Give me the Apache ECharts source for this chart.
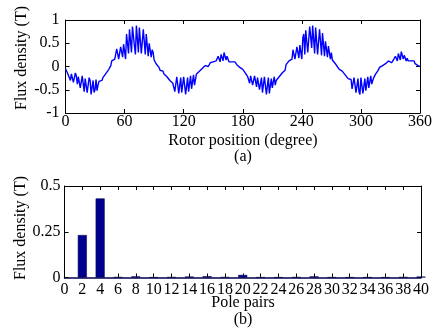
<!DOCTYPE html>
<html>
<head>
<meta charset="utf-8">
<script src="https://cdn.jsdelivr.net/npm/echarts@6/dist/echarts.min.js"></script>
<style>
html,body{margin:0;padding:0;background:#fff;}
#chart{width:435px;height:331px;}
</style>
</head>
<body>
<div id="chart"></div>
<script>
// ---- Data ----
// (a) flux density vs rotor position, one sample per degree, 0..360
const angleStep = 1;
const fluxWave = [
 -0.05,-0.08,-0.14,-0.10,-0.12,-0.30,-0.16,-0.12,-0.34,-0.36,
 -0.14,-0.20,-0.38,-0.22,-0.18,-0.46,-0.50,-0.20,-0.24,-0.54,
 -0.26,-0.22,-0.56,-0.58,-0.24,-0.30,-0.60,-0.58,-0.30,-0.56,
 -0.50,-0.28,-0.52,-0.40,-0.32,-0.36,-0.28,-0.30,-0.24,-0.22,
 -0.18,-0.20,-0.12,-0.10,-0.06,-0.04,0.02,0.12,0.14,0.12,
 0.16,0.14,0.38,0.40,0.16,0.18,0.42,0.40,0.20,0.48,
 0.46,0.16,0.70,0.74,0.28,0.80,0.78,0.30,0.86,0.88,
 0.44,0.26,0.88,0.86,0.30,0.84,0.80,0.28,0.24,0.80,
 0.76,0.26,0.70,0.66,0.22,0.50,0.48,0.20,0.36,0.30,
 0.14,0.12,0.06,0.04,0.02,-0.02,-0.08,-0.10,-0.12,-0.10,
 -0.16,-0.18,-0.14,-0.22,-0.20,-0.24,-0.30,-0.34,-0.28,-0.36,
 -0.34,-0.54,-0.56,-0.22,-0.20,-0.58,-0.60,-0.24,-0.56,-0.58,
 -0.22,-0.26,-0.60,-0.56,-0.24,-0.54,-0.50,-0.20,-0.48,-0.46,
 -0.18,-0.40,-0.36,-0.16,-0.18,-0.14,-0.10,-0.12,-0.06,-0.04,
 -0.02,0.00,0.02,-0.01,0.02,0.00,0.04,0.08,0.10,0.12,
 0.10,0.14,0.10,0.12,0.08,0.22,0.20,0.10,0.26,0.24,
 0.12,0.30,0.28,0.14,0.22,0.20,0.10,0.12,0.14,0.10,
 0.12,0.08,0.10,0.06,0.04,0.02,0.00,-0.02,-0.04,-0.06,
 -0.06,-0.04,-0.12,-0.10,-0.16,-0.22,-0.18,-0.36,-0.20,-0.18,
 -0.40,-0.42,-0.20,-0.22,-0.44,-0.24,-0.20,-0.50,-0.54,-0.24,
 -0.56,-0.58,-0.22,-0.26,-0.60,-0.56,-0.24,-0.58,-0.54,-0.26,
 -0.46,-0.44,-0.22,-0.40,-0.30,-0.26,-0.30,-0.22,-0.24,-0.18,
 -0.14,-0.16,-0.10,-0.08,0.04,0.06,0.08,0.12,0.14,0.12,
 0.16,0.36,0.40,0.16,0.18,0.42,0.40,0.18,0.46,0.44,
 0.16,0.62,0.70,0.26,0.78,0.80,0.30,0.28,0.86,0.88,
 0.40,0.88,0.86,0.28,0.84,0.82,0.26,0.22,0.80,0.78,
 0.24,0.72,0.68,0.22,0.54,0.56,0.20,0.44,0.40,0.16,
 0.30,0.14,0.12,0.10,0.06,0.02,0.00,-0.04,-0.06,-0.08,
 -0.06,-0.10,-0.14,-0.12,-0.18,-0.16,-0.22,-0.26,-0.24,-0.30,
 -0.28,-0.48,-0.52,-0.24,-0.22,-0.56,-0.58,-0.26,-0.54,-0.60,
 -0.24,-0.28,-0.58,-0.56,-0.26,-0.52,-0.50,-0.22,-0.46,-0.44,
 -0.20,-0.38,-0.30,-0.24,-0.20,-0.16,-0.14,-0.10,-0.06,-0.02,
 0.00,-0.02,0.02,0.00,0.04,0.06,0.10,0.08,0.12,0.10,
 0.12,0.08,0.10,0.14,0.12,0.22,0.24,0.12,0.28,0.26,
 0.14,0.32,0.30,0.16,0.24,0.22,0.12,0.18,0.12,0.14,
 0.10,0.12,0.14,0.10,0.12,0.06,0.04,0.02,0.02,0.00,
 0.00
];
// (b) harmonic spectrum
const polePairs = [2,4,6,8,10,12,14,16,18,20,22,24,26,28,30,32,34,36,38,40];
const harmonicAmp = [0.232,0.432,0.002,0.006,0.001,0.002,0.005,0.007,0.002,0.014,
                     0.001,0.001,0.002,0.006,0.001,0.001,0.001,0.001,0.002,0.005];

const FONT = 'Liberation Serif';
const FS = 16;
const labelStyle = {fontFamily: FONT, fontSize: FS, color: '#000'};
const lineBlack = {color: '#000', width: 1};

function mkX(grid, min, max, interval, pos, showLabel, margin, lineColor, lineWidth) {
  return {
    gridIndex: grid, type: 'value', min: min, max: max, interval: interval,
    position: pos,
    axisLine: {show: true, onZero: false, lineStyle: {color: lineColor || '#000', width: lineWidth || 1}},
    axisTick: {show: true, inside: true, length: 4, lineStyle: lineBlack},
    axisLabel: Object.assign({show: showLabel, margin: margin, hideOverlap: false}, labelStyle),
    splitLine: {show: false}
  };
}
function mkY(grid, min, max, interval, pos, showLabel, margin) {
  return {
    gridIndex: grid, type: 'value', min: min, max: max, interval: interval,
    position: pos,
    axisLine: {show: true, onZero: false, lineStyle: lineBlack},
    axisTick: {show: true, inside: true, length: 4, lineStyle: lineBlack},
    axisLabel: Object.assign({show: showLabel, margin: margin}, labelStyle),
    splitLine: {show: false}
  };
}

function txt(x, y, s, rot) {
  return {
    type: 'text', x: x, y: y, rotation: rot || 0,
    style: {text: s, font: FS + 'px "' + FONT + '"', fill: '#000', textAlign: 'center', textVerticalAlign: 'middle'}
  };
}

const chart = echarts.init(document.getElementById('chart'), null, {renderer: 'canvas'});
chart.setOption({
  backgroundColor: '#fff',
  animation: false,
  grid: [
    {left: 65.5, top: 20, width: 355.5, height: 93},
    {left: 64.5, top: 186, width: 356.5, height: 91.5}
  ],
  xAxis: [
    mkX(0, 0, 360, 60, 'bottom', true, 1),
    mkX(0, 0, 360, 60, 'top', false, 0),
    mkX(1, 0, 40, 2, 'bottom', true, 4, '#000050', 1.5),
    mkX(1, 0, 40, 2, 'top', false, 0)
  ],
  yAxis: [
    mkY(0, -1, 1, 0.5, 'left', true, 6),
    mkY(0, -1, 1, 0.5, 'right', false, 0),
    mkY(1, 0, 0.5, 0.25, 'left', true, 4),
    mkY(1, 0, 0.5, 0.25, 'right', false, 0)
  ],
  series: [
    {
      type: 'line', xAxisIndex: 0, yAxisIndex: 0,
      data: fluxWave.map((v, i) => [i * angleStep, v]),
      showSymbol: false, symbol: 'none',
      lineStyle: {color: '#0000ff', width: 1.4}
    },
    {
      type: 'bar', xAxisIndex: 2, yAxisIndex: 2,
      data: polePairs.map((p, i) => [p, harmonicAmp[i]]),
      barWidth: 9,
      itemStyle: {color: '#00008f', borderColor: '#000040', borderWidth: 0.5}
    }
  ],
  graphic: [
    txt(243, 141, 'Rotor position (degree)'),
    txt(243, 157, '(a)'),
    txt(243, 303, 'Pole pairs'),
    txt(243, 320, '(b)'),
    txt(22, 58, 'Flux density (T)', Math.PI / 2),
    txt(21, 228, 'Flux density (T)', Math.PI / 2)
  ]
});
</script>
</body>
</html>
